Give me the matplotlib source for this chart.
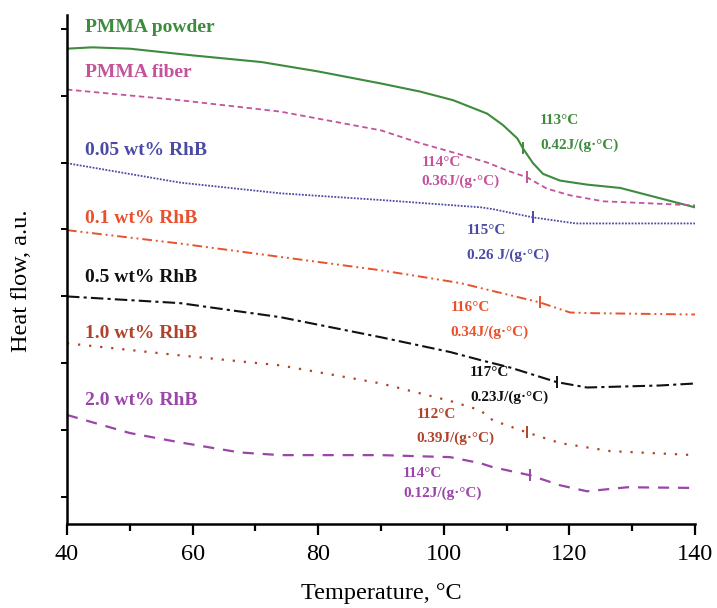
import numpy as np
import matplotlib
matplotlib.use("Agg")
import matplotlib.pyplot as plt

plt.rcParams['font.family'] = ['Liberation Serif', 'DejaVu Serif']

# curves (temperature in degC, heat flow in a.u.)
t_powder = [40, 44, 50, 60, 71, 80, 90, 96.2, 101.5, 106.9, 109.4, 111.7, 112.6, 114.2,
            115.8, 118.5, 122.8, 128.1, 140]
hf_powder = [7.10, 7.12, 7.10, 7.00, 6.90, 6.76, 6.58, 6.46, 6.33, 6.13, 5.96, 5.76, 5.61,
             5.39, 5.23, 5.13, 5.07, 5.02, 4.73]

t_fiber = [40, 58, 74, 90, 96.2, 101.5, 106.9, 110.1, 113.2, 116.4, 120.1, 125.4, 128.1, 140]
hf_fiber = [6.49, 6.33, 6.16, 5.88, 5.69, 5.55, 5.40, 5.28, 5.18, 5.01, 4.91, 4.82, 4.81, 4.76]

t_005 = [40, 58, 74, 90, 106, 108, 114.2, 121, 129, 140]
hf_005 = [5.39, 5.10, 4.94, 4.84, 4.73, 4.70, 4.58, 4.49, 4.49, 4.49]

t_01 = [40, 58, 74, 90, 98, 102.6, 115.3, 120.1, 123.8, 140]
hf_01 = [4.39, 4.19, 3.99, 3.79, 3.67, 3.60, 3.31, 3.16, 3.15, 3.13]

t_05 = [40, 58, 74, 90, 101, 105.8, 110.5, 118, 122.8, 134.4, 140]
hf_05 = [3.40, 3.30, 3.09, 2.79, 2.57, 2.45, 2.34, 2.12, 2.04, 2.07, 2.10]

t_10 = [40, 58, 74, 90, 101, 105.8, 107.8, 113.2, 118.5, 126.5, 140]
hf_10 = [2.70, 2.52, 2.37, 2.10, 1.84, 1.70, 1.55, 1.37, 1.21, 1.09, 1.03]

t_20 = [40, 50, 58, 67.5, 74, 90, 101, 105.8, 107.8, 113.7, 118.5, 122.8, 129.2, 140]
hf_20 = [1.63, 1.36, 1.22, 1.07, 1.03, 1.03, 1.00, 0.91, 0.85, 0.73, 0.58, 0.49, 0.55, 0.54]

names = ["PMMA powder", "PMMA fiber", "0.05 wt% RhB", "0.1 wt% RhB",
         "0.5 wt% RhB", "1.0 wt% RhB", "2.0 wt% RhB"]
tg_temps = [112.6, 113.2, 114.2, 115.3, 118.0, 113.2, 113.7]
tg_labels = ["113°C", "114°C", "115°C", "116°C", "117°C", "112°C", "114°C"]
cp_labels = ["0.42J/(g·°C)", "0.36J/(g·°C)", "0.26 J/(g·°C)", "0.34J/(g·°C)",
             "0.23J/(g·°C)", "0.39J/(g·°C)", "0.12J/(g·°C)"]

temps = [t_powder, t_fiber, t_005, t_01, t_05, t_10, t_20]
flows = [hf_powder, hf_fiber, hf_005, hf_01, hf_05, hf_10, hf_20]

colors = ['#3d8b3d', '#c2549c', '#4b4ba5', '#e8512b', '#111111', '#b0432c', '#9a45a8']
styles = ['-', (0, (3, 2)), (0, (1, 0.8)), (0, (5, 2, 1, 2, 1, 2)),
          (0, (6, 2, 1.5, 2)), (0, (1, 4)), (0, (5, 4))]
widths = [1.5, 1.3, 1.3, 1.4, 1.5, 1.6, 1.6]

# label positions (x in degC, y in a.u.)
name_y = [7.42, 6.75, 5.58, 4.57, 3.69, 2.85, 1.85]
tg_pos = [(115.3, 6.03), (96.5, 5.40), (103.7, 4.39), (101.1, 3.24),
          (104.2, 2.27), (95.7, 1.63), (93.5, 0.76)]
cp_pos = [(115.3, 5.66), (96.5, 5.12), (103.7, 4.01), (101.1, 2.87),
          (104.2, 1.90), (95.7, 1.28), (93.5, 0.46)]

fig = plt.figure(figsize=(7.17, 6.08), dpi=100)
ax = fig.add_axes([0.0934, 0.138, 0.876, 0.837])

for i in range(len(names)):
    ax.plot(temps[i], flows[i], color=colors[i], linestyle=styles[i], lw=widths[i])
    ty = np.interp(tg_temps[i], temps[i], flows[i])
    ax.plot([tg_temps[i]], [ty], marker='|', ms=8, mew=1.4, color=colors[i])
    ax.text(42.8, name_y[i], names[i], color=colors[i], fontsize=14,
            fontweight='bold', va='center', ha='left')
    ax.text(tg_pos[i][0], tg_pos[i][1], tg_labels[i], color=colors[i],
            fontsize=11, fontweight='bold', va='center', ha='left')
    ax.text(cp_pos[i][0], cp_pos[i][1], cp_labels[i], color=colors[i],
            fontsize=11, fontweight='bold', va='center', ha='left')

ax.set_xlim(40, 140)
ax.set_ylim(0, 7.6)
ax.set_xticks([40, 60, 80, 100, 120, 140])
ax.set_xticks([50, 70, 90, 110, 130], minor=True)
ax.set_yticks(np.arange(0.4, 7.5, 1.0))
ax.set_yticklabels([])
ax.spines['top'].set_visible(False)
ax.spines['right'].set_visible(False)
ax.spines['left'].set_linewidth(1.8)
ax.spines['bottom'].set_linewidth(1.8)
ax.tick_params(axis='x', which='major', length=8, width=1.6, labelsize=17.5, pad=6)
ax.tick_params(axis='x', which='minor', length=5, width=1.6)
ax.tick_params(axis='y', length=4, width=1.4)
ax.set_xlabel("Temperature, °C", fontsize=17.5, labelpad=13)
ax.set_ylabel("Heat flow, a.u.", fontsize=17.5)
ax.yaxis.set_label_coords(-0.056, 0.479)

fig.savefig("out.png", dpi=100)
